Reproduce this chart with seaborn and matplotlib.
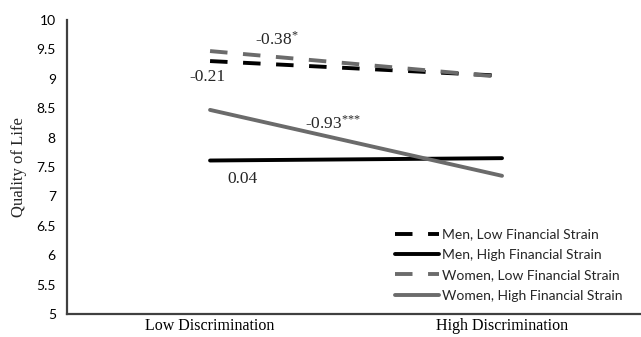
import pandas as pd
import matplotlib
matplotlib.use("Agg")
import matplotlib.pyplot as plt
import seaborn as sns

# Data
conditions = ["Low Discrimination", "High Discrimination"]
groups = ["Men, Low Financial Strain", "Men, High Financial Strain",
          "Women, Low Financial Strain", "Women, High Financial Strain"]
men_low = [9.30, 9.05]
men_high = [7.61, 7.65]
women_low = [9.47, 9.03]
women_high = [8.47, 7.35]
slope_labels = ["-0.21", "0.04", "-0.38$^{{*}}$", "-0.93$^{{*}{*}{*}}$"]

rows = []
for g, vals in zip(groups, [men_low, men_high, women_low, women_high]):
    for c, v in zip(conditions, vals):
        rows.append({"cond": c, "qol": v, "group": g})
df = pd.DataFrame(rows)

sns.set_style("white")
plt.rcParams["mathtext.fontset"] = "custom"
plt.rcParams["mathtext.rm"] = "Liberation Serif"
plt.rcParams["mathtext.it"] = "Liberation Serif"
fig = plt.figure(figsize=(6.41, 3.37), dpi=100)
ax = fig.add_axes([0.1045, 0.068, 0.8955, 0.873])

palette = {groups[0]: "#000000", groups[1]: "#000000",
           groups[2]: "#6b6b6b", groups[3]: "#6b6b6b"}
dashes = {groups[0]: (4.5, 4), groups[1]: "",
          groups[2]: (4.5, 4), groups[3]: ""}
sns.lineplot(data=df, x="cond", y="qol", hue="group", style="group",
             hue_order=groups, style_order=groups, palette=palette,
             dashes=dashes, linewidth=2.8, ax=ax, sort=False)

ax.set_xlim(-0.49, 1.476)
ax.set_ylim(5, 10)
ax.set_yticks([5, 5.5, 6, 6.5, 7, 7.5, 8, 8.5, 9, 9.5, 10])
ax.set_yticklabels(["5", "5.5", "6", "6.5", "7", "7.5", "8", "8.5", "9", "9.5", "10"],
                   fontfamily="Lato", fontsize=10)
ax.set_xticks([0, 1])
ax.set_xticklabels(conditions, fontfamily="Liberation Serif", fontsize=11.5)
ax.tick_params(axis="both", length=0, colors="#000000")
ax.tick_params(axis="y", pad=8)
ax.tick_params(axis="x", pad=3)
ax.set_xlabel("")
ax.set_ylabel("Quality of Life", fontfamily="Liberation Serif", fontsize=12, labelpad=7)

for side in ["top", "right"]:
    ax.spines[side].set_visible(False)
for side in ["left", "bottom"]:
    ax.spines[side].set_color("#404040")
    ax.spines[side].set_linewidth(1.6)

# slope annotations
ann_pos = [(-0.01, 9.03), (0.11, 7.3), (0.23, 9.66), (0.42, 8.23)]
for (x, y), t in zip(ann_pos, slope_labels):
    ax.text(x, y, t, ha="center", va="center", fontsize=12.5,
            fontfamily="Liberation Serif")

leg = ax.legend(loc="lower right", bbox_to_anchor=(0.99, 0.0), frameon=False,
                prop={"family": "Lato", "size": 10}, handlelength=3.2,
                handletextpad=0.2, labelspacing=0.6)
for line in leg.get_lines():
    line.set_linewidth(2.8)

fig.savefig("out.png", dpi=100)
